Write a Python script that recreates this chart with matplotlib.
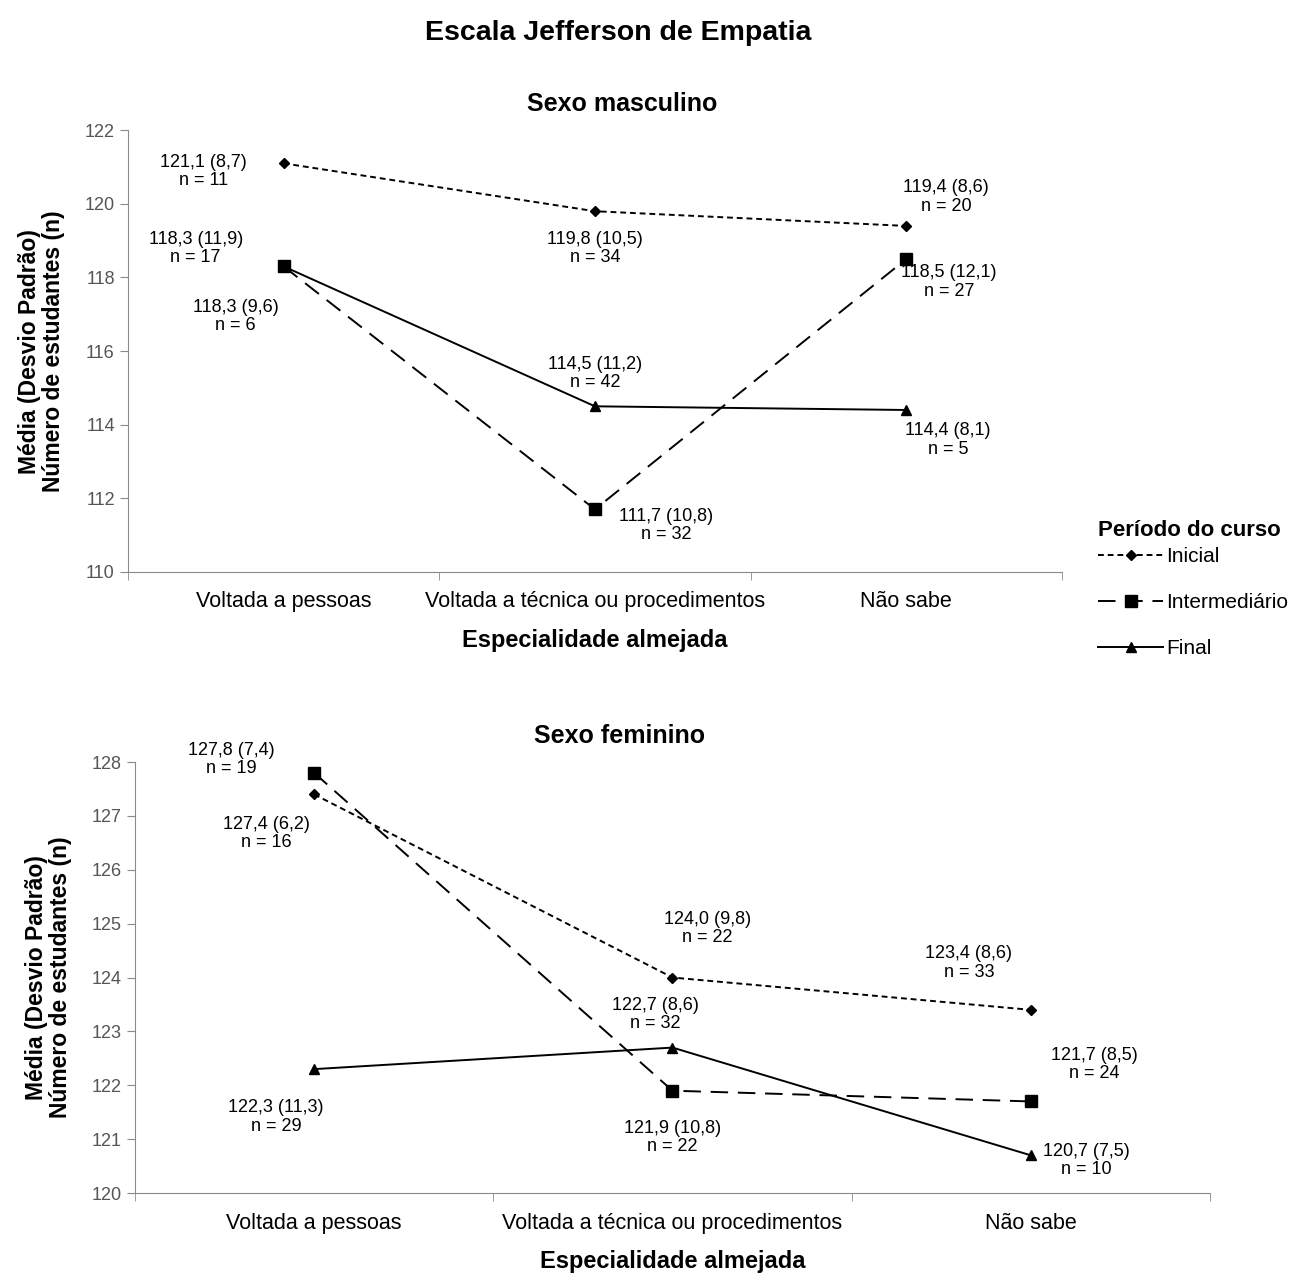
import matplotlib
matplotlib.use("Agg")
from matplotlib import pyplot as plt

plt.rcParams['font.family'] = ['Liberation Sans', 'DejaVu Sans']

categorias = ["Voltada a pessoas", "Voltada a técnica ou procedimentos", "Não sabe"]
series = ["Inicial", "Intermediário", "Final"]

# sexo masculino
masc_media = {"Inicial": [121.1, 119.8, 119.4],
              "Intermediário": [118.3, 111.7, 118.5],
              "Final": [118.3, 114.5, 114.4]}
masc_dp = {"Inicial": ["8,7", "10,5", "8,6"],
           "Intermediário": ["11,9", "10,8", "12,1"],
           "Final": ["9,6", "11,2", "8,1"]}
masc_n = {"Inicial": [11, 34, 20],
          "Intermediário": [17, 32, 27],
          "Final": [6, 42, 5]}

# sexo feminino
fem_media = {"Inicial": [127.4, 124.0, 123.4],
             "Intermediário": [127.8, 121.9, 121.7],
             "Final": [122.3, 122.7, 120.7]}
fem_dp = {"Inicial": ["6,2", "9,8", "8,6"],
          "Intermediário": ["7,4", "10,8", "8,5"],
          "Final": ["11,3", "8,6", "7,5"]}
fem_n = {"Inicial": [16, 22, 33],
         "Intermediário": [19, 22, 24],
         "Final": [29, 32, 10]}

# posicao dos rotulos (pixels relativos ao ponto)
masc_off = {"Inicial": [(-80, -8), (0, -37), (40, 29)],
            "Intermediário": [(-88, 18), (71, -16), (43, -23)],
            "Final": [(-48, -50), (0, 33), (42, -30)]}
fem_off = {"Inicial": [(-48, -39), (35, 49), (-62, 47)],
           "Intermediário": [(-83, 13), (0, -47), (63, 37)],
           "Final": [(-38, -48), (-17, 33), (55, -5)]}

estilos = {"Inicial": dict(linestyle=(0, (3, 2)), marker="D", markersize=5),
           "Intermediário": dict(linestyle=(0, (9, 5)), marker="s", markersize=8),
           "Final": dict(linestyle="-", marker="^", markersize=7)}

cinza = "#8a8a8a"


def desenha(ax, media, dp, n, off, ylim, titulo, xtit):
    x = list(range(len(categorias)))
    linhas = []
    for s in series:
        l, = ax.plot(x, media[s], color="black", linewidth=1.4, label=s, **estilos[s])
        linhas.append(l)
        for i in x:
            txt = f"{str(media[s][i]).replace('.', ',')} ({dp[s][i]})\nn = {n[s][i]}"
            ax.annotate(txt, (i, media[s][i]), xytext=off[s][i], textcoords="offset pixels",
                        ha="center", va="center", fontsize=13, linespacing=1.1)
    ax.set_xlim(-0.5, 2.5)
    ax.set_ylim(*ylim)
    ax.set_xticks(x)
    ax.set_xticklabels(categorias, fontsize=15.5)
    ax.set_xticks([-0.5, 0.5, 1.5, 2.5], minor=True)
    ax.tick_params(axis="x", which="major", length=0, pad=14)
    ax.tick_params(axis="x", which="minor", length=6, color=cinza)
    ax.tick_params(axis="y", labelsize=13, labelcolor="#555555", color=cinza, length=6)
    for sp in ["top", "right"]:
        ax.spines[sp].set_visible(False)
    for sp in ["left", "bottom"]:
        ax.spines[sp].set_color(cinza)
    ax.set_title(titulo, fontsize=18, fontweight="bold", pad=14, x=xtit)
    ax.set_xlabel("Especialidade almejada", fontsize=17, fontweight="bold", labelpad=12)
    ax.set_ylabel("Média (Desvio Padrão)\nNúmero de estudantes (n)", fontsize=16.5,
                  fontweight="bold", labelpad=14, linespacing=1.05)
    return linhas


fig = plt.figure(figsize=(12.97, 12.73), dpi=100)
ax1 = fig.add_axes([0.0987, 0.5507, 0.72, 0.347])
ax2 = fig.add_axes([0.104, 0.0628, 0.829, 0.3386])

linhas = desenha(ax1, masc_media, masc_dp, masc_n, masc_off, (110, 122), "Sexo masculino", 0.529)
ax1.set_yticks(range(110, 123, 2))
desenha(ax2, fem_media, fem_dp, fem_n, fem_off, (120, 128), "Sexo feminino", 0.451)
ax2.set_yticks(range(120, 129))

fig.suptitle("Escala Jefferson de Empatia", fontsize=20.5, fontweight="bold", x=0.477, y=0.984)

leg = fig.legend(linhas, series, loc="upper left", bbox_to_anchor=(1088 / 1297, 1 - 510 / 1273),
                 frameon=False, fontsize=15, title="Período do curso", labelspacing=1.3,
                 handlelength=3.1, handletextpad=0.15, borderpad=0)
leg.get_title().set_fontweight("bold")
leg.get_title().set_fontsize(16)
leg._legend_box.align = "left"
leg._legend_box.sep = 4

fig.savefig("out.png", dpi=100)
